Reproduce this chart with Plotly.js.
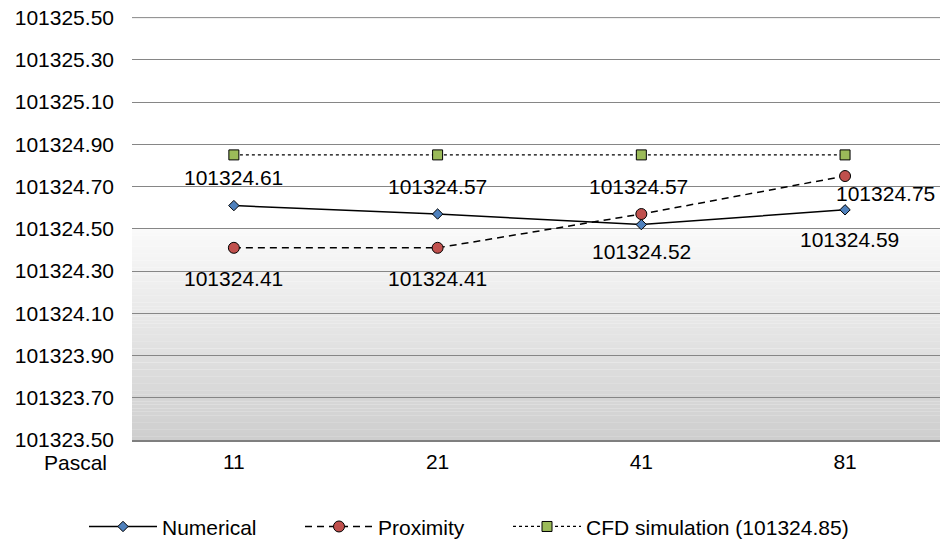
<!DOCTYPE html>
<html><head><meta charset="utf-8">
<script src="https://cdn.plot.ly/plotly-3.0.1.min.js"></script>
<style>html,body{margin:0;padding:0;background:#fff}</style>
</head><body><div id="chart" style="width:940px;height:542px"></div>
<script>
// ---- data ----
const categories = ['11', '21', '41', '81'];
const numerical = [101324.61, 101324.57, 101324.52, 101324.59];
const proximity = [101324.41, 101324.41, 101324.57, 101324.75];
const cfd = [101324.85, 101324.85, 101324.85, 101324.85];
const seriesNames = ['Numerical', 'Proximity', 'CFD simulation (101324.85)'];
const yTickVals = [101323.5, 101323.7, 101323.9, 101324.1, 101324.3, 101324.5, 101324.7, 101324.9, 101325.1, 101325.3, 101325.5];
const unitLabel = 'Pascal';

// ---- style ----
const FONT = '"Liberation Sans", Arial, sans-serif';
const FS = 21;
const yRange = [101323.5, 101325.503];
const gradFrom = 101323.5, gradTo = 101324.5;
const numLabelShift = [[0, 28], [0, 28], [0, -27], [4, -30]];
const proxLabelShift = [[0, -31], [0, -31], [-3, 28], [40, -17]];
const legendLeft = [84, 300, 508]; // px from left of page
const GRID = '#868686';

const traces = [
  {x: categories, y: numerical, name: seriesNames[0], type: 'scatter', mode: 'lines+markers', legend: 'legend',
   line: {color: '#000', width: 1.5},
   marker: {symbol: 'diamond', size: 8, color: '#4f81bd', line: {color: '#000', width: 1}}},
  {x: categories, y: proximity, name: seriesNames[1], type: 'scatter', mode: 'lines+markers', legend: 'legend2',
   line: {color: '#000', width: 1.5, dash: '7px,5px'},
   marker: {symbol: 'circle', size: 11, color: '#c0504d', line: {color: '#000', width: 1}}},
  {x: categories, y: cfd, name: seriesNames[2], type: 'scatter', mode: 'lines+markers', legend: 'legend3',
   line: {color: '#000', width: 1.2, dash: 'dot'},
   marker: {symbol: 'square', size: 10, color: '#9bbb59', line: {color: '#000', width: 1}}}
];

// gradient band via stacked rectangles
const shapes = [];
const N = 60;
for (let i = 0; i < N; i++) {
  const f = (i + 0.5) / N; // 0 at bottom, 1 at top
  const c = Math.round(206 + (250 - 206) * f);
  shapes.push({type: 'rect', xref: 'paper', yref: 'y', x0: 0, x1: 1,
    y0: gradFrom + (gradTo - gradFrom) * i / N, y1: gradFrom + (gradTo - gradFrom) * (i + 1) / N + 0.0005,
    fillcolor: `rgb(${c},${c},${c})`, line: {width: 0}, layer: 'below'});
}
// top gridline (plotly skips the gridline at the range edge)
const topTick = yTickVals[yTickVals.length - 1];
shapes.push({type: 'line', xref: 'paper', yref: 'y', x0: 0, x1: 1, y0: topTick, y1: topTick,
  line: {color: GRID, width: 1}, layer: 'below'});

const annotations = [];
function addLabels(vals, shifts) {
  vals.forEach((v, i) => annotations.push({x: i, y: v, xref: 'x', yref: 'y',
    text: v.toFixed(2), showarrow: false, xshift: shifts[i][0], yshift: shifts[i][1],
    font: {family: FONT, size: FS, color: '#000'}}));
}
addLabels(numerical, numLabelShift);
addLabels(proximity, proxLabelShift);
annotations.push({xref: 'paper', yref: 'paper', x: 0, y: 0, xanchor: 'right', yanchor: 'middle',
  xshift: -23, yshift: -22, text: unitLabel, showarrow: false, font: {family: FONT, size: FS, color: '#000'}});

function legendAt(px) {
  return {orientation: 'h', xref: 'container', x: px / 940, xanchor: 'left', yref: 'container', y: 0.028, yanchor: 'middle',
    font: {family: FONT, size: FS, color: '#000'}, itemwidth: 68, bgcolor: 'rgba(0,0,0,0)', borderwidth: 0};
}

const layout = {
  width: 940, height: 542,
  margin: {l: 132, r: 0, t: 17, b: 102},
  paper_bgcolor: '#fff', plot_bgcolor: '#fff',
  font: {family: FONT, size: FS, color: '#000'},
  showlegend: true,
  legend: legendAt(legendLeft[0]),
  legend2: legendAt(legendLeft[1]),
  legend3: legendAt(legendLeft[2]),
  xaxis: {type: 'category', range: [-0.5, 3.466], showgrid: false, zeroline: false,
    showline: true, linecolor: '#7f7f7f', linewidth: 2, ticks: '', ticklabelstandoff: 2,
    tickfont: {family: FONT, size: FS, color: '#000'}, fixedrange: true},
  yaxis: {range: yRange, tickvals: yTickVals, tickformat: '.2f', showgrid: true, gridcolor: GRID, gridwidth: 1,
    zeroline: false, showline: false, ticks: '', ticklabelstandoff: 17,
    tickfont: {family: FONT, size: FS, color: '#000'}, fixedrange: true},
  shapes: shapes,
  annotations: annotations
};

Plotly.newPlot('chart', traces, layout, {displayModeBar: false, staticPlot: true});
</script></body></html>
